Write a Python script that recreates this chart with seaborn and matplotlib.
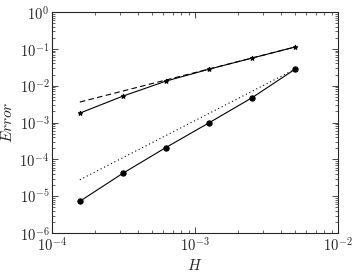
import math
import matplotlib
matplotlib.use("Agg")
import matplotlib.pyplot as plt
from matplotlib.ticker import FuncFormatter
import pandas as pd
import seaborn as sns

# mesh sizes and errors
H = [1.5625e-4, 3.125e-4, 6.25e-4, 1.25e-3, 2.5e-3, 5e-3]
err_star = [1.8e-3, 5.2e-3, 1.33e-2, 2.8e-2, 5.6e-2, 0.112]
err_circ = [7.3e-6, 4.2e-5, 2.1e-4, 9.8e-4, 4.7e-3, 2.8e-2]

# reference slopes (endpoints only)
ref_H = [1.5625e-4, 5e-3]
ref_order1 = [3.6e-3, 0.112]
ref_order2 = [2.8e-5, 2.8e-2]

sns.set_style("ticks")
plt.rcParams['font.family'] = ['DejaVu Serif']
plt.rcParams['mathtext.fontset'] = 'cm'
plt.rcParams['xtick.direction'] = 'in'
plt.rcParams['ytick.direction'] = 'in'
plt.rcParams['xtick.top'] = True
plt.rcParams['ytick.right'] = True

fig = plt.figure(figsize=(3.57, 2.72), dpi=100)
ax = fig.add_axes([0.146, 0.143, 0.801, 0.813])

df_s = pd.DataFrame({'H': H, 'err': err_star})
df_c = pd.DataFrame({'H': H, 'err': err_circ})
df_r1 = pd.DataFrame({'H': ref_H, 'err': ref_order1})
df_r2 = pd.DataFrame({'H': ref_H, 'err': ref_order2})

sns.lineplot(data=df_r1, x='H', y='err', ax=ax, color='black', lw=0.8,
             linestyle=(0, (5, 3)))
sns.lineplot(data=df_r2, x='H', y='err', ax=ax, color='black', lw=0.8,
             linestyle=(0, (1, 2.5)))
sns.lineplot(data=df_s, x='H', y='err', ax=ax, color='black', lw=0.8,
             marker='*', markersize=3.5, markeredgecolor='black')
sns.lineplot(data=df_c, x='H', y='err', ax=ax, color='black', lw=0.8,
             marker='o', markersize=3.8, markeredgecolor='black')

ax.set_xscale('log')
ax.set_yscale('log')
ax.set_xlim(1e-4, 1e-2)
ax.set_ylim(1e-6, 1e0)

pow10 = FuncFormatter(lambda v, pos: r'$10^{%d}$' % round(math.log10(v)))
ax.xaxis.set_major_formatter(pow10)
ax.yaxis.set_major_formatter(pow10)

ax.set_xlabel('$H$', fontsize=11, labelpad=3)
ax.set_ylabel('$Error$', fontsize=11, labelpad=3)
ax.tick_params(which='major', length=4, width=0.6, labelsize=10.5, pad=2)
ax.tick_params(which='minor', length=2, width=0.5)
for s in ax.spines.values():
    s.set_linewidth(0.8)

fig.savefig('out.png', dpi=100)
